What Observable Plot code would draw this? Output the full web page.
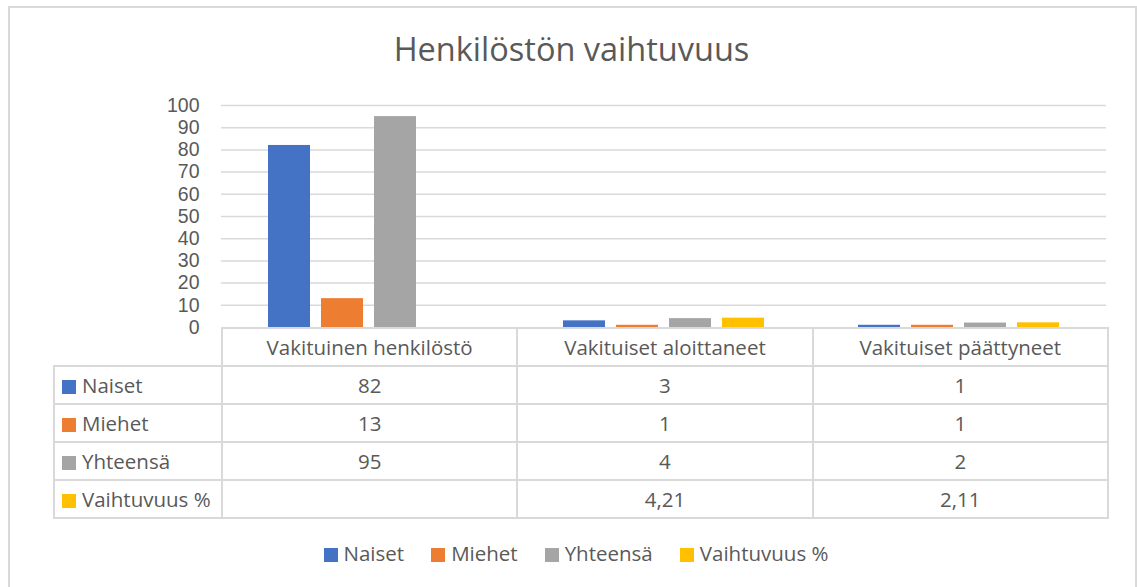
<!DOCTYPE html>
<html>
<head>
<meta charset="utf-8">
<script src="https://cdn.jsdelivr.net/npm/d3@7"></script>
<script src="https://cdn.jsdelivr.net/npm/@observablehq/plot@0.6"></script>
<style>
  html, body { margin: 0; padding: 0; background: #fff; }
  body { width: 1137px; height: 587px; position: relative; overflow: hidden;
         font-family: "Open Sans", sans-serif; color: #595959; }
  #frame { position: absolute; left: 8px; top: 6px; width: 1129px; height: 600px;
           border: 2px solid #d9d9d9; box-sizing: border-box; }
  #title { position: absolute; left: 0; top: 32.8px; width: 1143px; text-align: center;
           font-size: 32.5px; line-height: 32.5px; white-space: nowrap; }
  #chart { position: absolute; left: 0; top: 0; }
  #table { position: absolute; left: 53px; top: 326.5px; border-collapse: collapse;
           font-size: 20.5px; table-layout: fixed; }
  #table td { border: 2px solid #d9d9d9; padding: 0; height: 36px; text-align: center;
              white-space: nowrap; line-height: 20px; }
  #table td.blank { border: none; }
  #table td.name { text-align: left; padding-left: 7px; }
  .sw { display: inline-block; width: 14px; height: 14px; margin-right: 6px; vertical-align: -1px; }
  #legend { position: absolute; left: 0; top: 539px; width: 1152px; display: flex;
            justify-content: center; font-size: 20.5px; line-height: 28px; white-space: nowrap; }
  #legend .item { margin: 0 13.5px; }
</style>
</head>
<body>
<div id="frame"></div>
<div id="title"></div>
<div id="chart"></div>
<table id="table"></table>
<div id="legend"></div>
<script>
const titleText = "Henkilöstön vaihtuvuus";
const categories = ["Vakituinen henkilöstö", "Vakituiset aloittaneet", "Vakituiset päättyneet"];
const seriesNames = ["Naiset", "Miehet", "Yhteensä", "Vaihtuvuus %"];
const naiset = [82, 3, 1];
const miehet = [13, 1, 1];
const yhteensa = [95, 4, 2];
const vaihtuvuus = [null, 4.21, 2.11];
const colors = ["#4472C4", "#ED7D31", "#A5A5A5", "#FFC000"];
const yTicks = [0, 10, 20, 30, 40, 50, 60, 70, 80, 90, 100];

const seriesValues = [naiset, miehet, yhteensa, vaihtuvuus];
const fmt = v => v == null ? "" : String(v).replace(".", ",");

document.getElementById("title").textContent = titleText;

const rows = [];
seriesNames.forEach((s, si) => {
  categories.forEach((c, ci) => {
    const v = seriesValues[si][ci];
    if (v != null) rows.push({cat: c, series: s, value: v});
  });
});

const chart = Plot.plot({
  width: 1137,
  height: 331,
  marginLeft: 220,
  marginRight: 31,
  marginTop: 105,
  marginBottom: 4,
  style: {fontFamily: "Open Sans", fontSize: "20px", color: "#595959", background: "transparent", overflow: "visible"},
  fx: {domain: categories, padding: 0, axis: null, label: null},
  x: {domain: seriesNames, paddingInner: 0.2, paddingOuter: 0.87, axis: null, label: null},
  y: {domain: [0, 100], label: null},
  color: {domain: seriesNames, range: colors},
  marks: [
    Plot.ruleY(yTicks.slice(1), {stroke: "#d9d9d9", strokeWidth: 1.5}),
    Plot.barY(rows, {fx: "cat", x: "series", y: "value", fill: "series"}),
    Plot.axisY(yTicks, {tickSize: 0, tickPadding: 22, fontSize: 19.5, fontFamily: "Liberation Sans", fill: "#595959", label: null})
  ]
});
document.getElementById("chart").appendChild(chart);

// data table
const table = d3.select("#table");
const colgroup = table.append("colgroup");
colgroup.append("col").style("width", "168px");
categories.forEach(() => colgroup.append("col").style("width", "295.3px"));
const head = table.append("tr");
head.append("td").attr("class", "blank");
categories.forEach(c => head.append("td").text(c));
seriesNames.forEach((s, si) => {
  const tr = table.append("tr");
  const td = tr.append("td").attr("class", "name");
  td.append("span").attr("class", "sw").style("background", colors[si]);
  td.append("span").text(s);
  categories.forEach((c, ci) => tr.append("td").text(fmt(seriesValues[si][ci])));
});

// legend
const legend = d3.select("#legend");
seriesNames.forEach((s, si) => {
  const it = legend.append("span").attr("class", "item");
  it.append("span").attr("class", "sw").style("background", colors[si]);
  it.append("span").text(s);
});
</script>
</body>
</html>
